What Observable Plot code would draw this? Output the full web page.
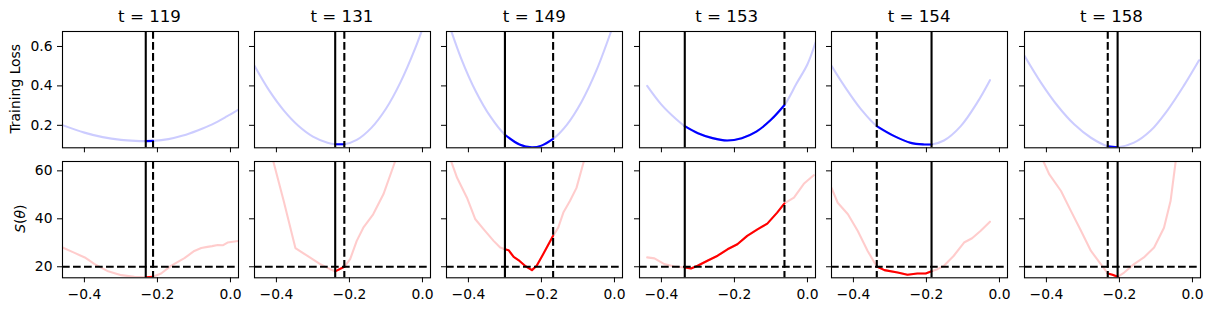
<!DOCTYPE html>
<html>
<head>
<meta charset="utf-8">
<script src="https://cdn.jsdelivr.net/npm/d3@7"></script>
<script src="https://cdn.jsdelivr.net/npm/@observablehq/plot@0.6"></script>
<style>
  html, body { margin: 0; padding: 0; background: white; }
  #fig { position: relative; width: 1211px; height: 311px; background: white; overflow: hidden; font-family: "DejaVu Sans", sans-serif; }
</style>
</head>
<body>
<div id="fig"></div>
<script>
// ---------- data ----------
const steps = [119, 131, 149, 153, 154, 158];
const solidX  = [-0.232, -0.239, -0.300, -0.336, -0.186, -0.205];
const dashedX = [-0.212, -0.214, -0.168, -0.063, -0.336, -0.232];
const threshold = 20;
const xTicks = [-0.4, -0.2, 0.0];
const lossTicks = [0.2, 0.4, 0.6];
const sharpTicks = [20, 40, 60];
const xDomain = [-0.46, 0.022];
const lossDomain = [0.086, 0.676];
const sharpDomain = [15.4, 63.9];

const loss119 = [[-0.46,0.201],[-0.40,0.163],[-0.35,0.140],[-0.30,0.126],[-0.26,0.121],[-0.232,0.120],[-0.212,0.121],[-0.17,0.130],[-0.13,0.148],[-0.09,0.174],[-0.05,0.205],[-0.01,0.245],[0.022,0.280]];
const loss131 = [[-0.46,0.502],[-0.42,0.377],[-0.38,0.276],[-0.34,0.198],[-0.30,0.143],[-0.26,0.112],[-0.239,0.104],[-0.214,0.104],[-0.18,0.126],[-0.14,0.187],[-0.10,0.284],[-0.06,0.419],[-0.02,0.590],[0.00,0.690]];
const loss149 = [[-0.46,0.750],[-0.42,0.540],[-0.38,0.373],[-0.34,0.245],[-0.30,0.152],[-0.26,0.103],[-0.226,0.089],[-0.20,0.097],[-0.168,0.131],[-0.13,0.204],[-0.09,0.320],[-0.05,0.476],[-0.01,0.673],[0.02,0.840]];
const loss153 = [[-0.439,0.400],[-0.40,0.305],[-0.36,0.232],[-0.336,0.196],[-0.30,0.160],[-0.26,0.135],[-0.22,0.123],[-0.18,0.135],[-0.14,0.168],[-0.10,0.228],[-0.063,0.303],[-0.03,0.412],[0.0,0.510],[0.022,0.620]];
const loss154 = [[-0.46,0.502],[-0.425,0.400],[-0.379,0.281],[-0.336,0.196],[-0.288,0.145],[-0.243,0.111],[-0.206,0.103],[-0.186,0.103],[-0.152,0.123],[-0.106,0.196],[-0.061,0.315],[-0.026,0.429]];
const loss158 = [[-0.46,0.553],[-0.415,0.417],[-0.369,0.298],[-0.324,0.205],[-0.278,0.137],[-0.232,0.094],[-0.205,0.089],[-0.16,0.112],[-0.115,0.172],[-0.069,0.275],[-0.024,0.400],[0.018,0.530]];

const sharp119 = [[-0.46,28.0],[-0.43,26.0],[-0.399,23.9],[-0.372,21.1],[-0.335,18.1],[-0.299,16.5],[-0.263,15.8],[-0.232,15.6],[-0.212,15.8],[-0.19,17.2],[-0.163,20.4],[-0.126,23.6],[-0.099,26.6],[-0.08,27.8],[-0.063,28.3],[-0.05,28.6],[-0.035,29.1],[-0.02,29.0],[-0.008,30.1],[0.022,30.8]];
const sharp131 = [[-0.412,66.0],[-0.38,47.4],[-0.348,27.8],[-0.316,24.6],[-0.28,21.1],[-0.253,19.0],[-0.239,18.1],[-0.214,20.0],[-0.198,23.2],[-0.18,30.8],[-0.162,36.3],[-0.135,41.9],[-0.107,50.2],[-0.075,63.9],[-0.07,66.0]];
const sharp149 = [[-0.452,66.0],[-0.431,57.1],[-0.404,48.8],[-0.381,39.8],[-0.358,35.6],[-0.331,30.8],[-0.313,28.0],[-0.30,27.3],[-0.29,26.9],[-0.276,24.1],[-0.263,22.8],[-0.245,20.4],[-0.226,18.6],[-0.213,20.4],[-0.195,25.3],[-0.168,32.9],[-0.154,36.3],[-0.14,42.6],[-0.122,47.4],[-0.104,52.9],[-0.084,63.9],[-0.08,66.0]];
const sharp153 = [[-0.439,23.9],[-0.419,23.5],[-0.392,21.1],[-0.365,20.1],[-0.336,19.7],[-0.319,19.3],[-0.301,20.4],[-0.274,22.5],[-0.246,24.6],[-0.219,27.3],[-0.192,29.4],[-0.165,32.9],[-0.137,35.6],[-0.11,38.0],[-0.083,42.6],[-0.063,46.4],[-0.037,48.8],[-0.01,54.6],[0.017,58.2]];
const sharp154 = [[-0.46,52.9],[-0.443,46.7],[-0.415,41.9],[-0.388,34.9],[-0.361,26.6],[-0.336,20.1],[-0.315,18.6],[-0.279,17.6],[-0.252,16.7],[-0.225,17.2],[-0.202,17.2],[-0.186,18.1],[-0.17,19.0],[-0.152,20.4],[-0.125,24.6],[-0.097,30.1],[-0.075,31.9],[-0.052,34.9],[-0.026,38.8]];
const sharp158 = [[-0.412,66.0],[-0.408,63.9],[-0.392,58.5],[-0.36,51.6],[-0.333,43.3],[-0.305,34.9],[-0.278,26.6],[-0.251,21.1],[-0.232,17.2],[-0.219,16.7],[-0.205,15.8],[-0.187,17.6],[-0.16,21.1],[-0.133,23.9],[-0.105,28.0],[-0.078,36.3],[-0.06,47.4],[-0.046,63.9],[-0.044,66.0]];

const lossCurves = [loss119, loss131, loss149, loss153, loss154, loss158];
const sharpCurves = [sharp119, sharp131, sharp149, sharp153, sharp154, sharp158];

// ---------- layout ----------
const fig = document.getElementById("fig");
const W = 176, H = 116.3;
const colLeft = i => 61.5 + i * 192.4;
const rowTop = [30.6, 160.6];
const mL = 50, mR = 12, mT = 4, mB = 30;
const FONT = "DejaVu Sans";
const minus = s => s.replace("-", "\u2212");
const dash = "7.7,3.3";

steps.forEach((t, i) => {
  const lo = Math.min(solidX[i], dashedX[i]);
  const hi = Math.max(solidX[i], dashedX[i]);
  [0, 1].forEach(row => {
    const src = row === 0 ? lossCurves[i] : sharpCurves[i];
    const pts = src.map(([x, y]) => ({x, y}));
    const seg = pts.filter(d => d.x >= lo - 1e-9 && d.x <= hi + 1e-9);
    const color = row === 0 ? "blue" : "red";
    const curve = row === 0 ? "catmull-rom" : "linear";
    const marks = [
      Plot.line(pts, {x: "x", y: "y", stroke: color, strokeOpacity: 0.2, strokeWidth: 2.1, curve, clip: true}),
      Plot.line(seg, {x: "x", y: "y", stroke: color, strokeWidth: 2.1, curve, clip: true}),
      Plot.ruleX([solidX[i]], {stroke: "black", strokeWidth: 2.1}),
      Plot.ruleX([dashedX[i]], {stroke: "black", strokeWidth: 2.1, strokeDasharray: dash})
    ];
    if (row === 1) marks.push(Plot.ruleY([threshold], {stroke: "black", strokeWidth: 2.1, strokeDasharray: dash}));
    marks.push(
      Plot.axisX({ticks: xTicks, tickSize: 5, tickPadding: 6, label: null,
        tickFormat: row === 1 ? (d => minus(d.toFixed(1))) : (() => "")}),
      Plot.axisY({ticks: row === 0 ? lossTicks : sharpTicks, tickSize: 5, tickPadding: 5, label: null,
        tickFormat: i === 0 ? (row === 0 ? (d => d.toFixed(1)) : (d => String(d))) : (() => "")}),
      Plot.frame({stroke: "black", strokeWidth: 1.1})
    );
    const svg = Plot.plot({
      width: mL + W + mR, height: mT + H + mB,
      marginLeft: mL, marginRight: mR, marginTop: mT, marginBottom: mB,
      x: {domain: xDomain, label: null},
      y: {domain: row === 0 ? lossDomain : sharpDomain, label: null},
      style: {fontFamily: FONT, fontSize: "13.9px", background: "transparent", color: "black", overflow: "visible"},
      marks
    });
    svg.style.position = "absolute";
    svg.style.left = (colLeft(i) - mL) + "px";
    svg.style.top = (rowTop[row] - mT) + "px";
    svg.style.maxWidth = "none";
    fig.appendChild(svg);
  });
});

// ---------- titles and row labels ----------
const overlay = d3.create("svg")
  .attr("width", 1211).attr("height", 311)
  .style("position", "absolute").style("left", "0px").style("top", "0px")
  .style("pointer-events", "none")
  .attr("font-family", FONT);

overlay.selectAll("text.title").data(steps).join("text")
  .attr("class", "title")
  .attr("x", (t, i) => colLeft(i) + W / 2)
  .attr("y", 22)
  .attr("text-anchor", "middle")
  .attr("font-size", "16.67px")
  .attr("fill", "black")
  .text(t => `t = ${t}`);

overlay.append("text")
  .attr("transform", `translate(19.5,${rowTop[0] + H / 2}) rotate(-90)`)
  .attr("text-anchor", "middle")
  .attr("font-size", "13.9px")
  .text("Training Loss");

const sl = overlay.append("text")
  .attr("transform", `translate(24.5,${rowTop[1] + H / 2}) rotate(-90)`)
  .attr("text-anchor", "middle")
  .attr("font-size", "13.9px");
sl.append("tspan").attr("font-style", "italic").text("S");
sl.append("tspan").text("(");
sl.append("tspan").attr("font-style", "italic").text("\u03b8");
sl.append("tspan").text(")");

fig.appendChild(overlay.node());
</script>
</body>
</html>
